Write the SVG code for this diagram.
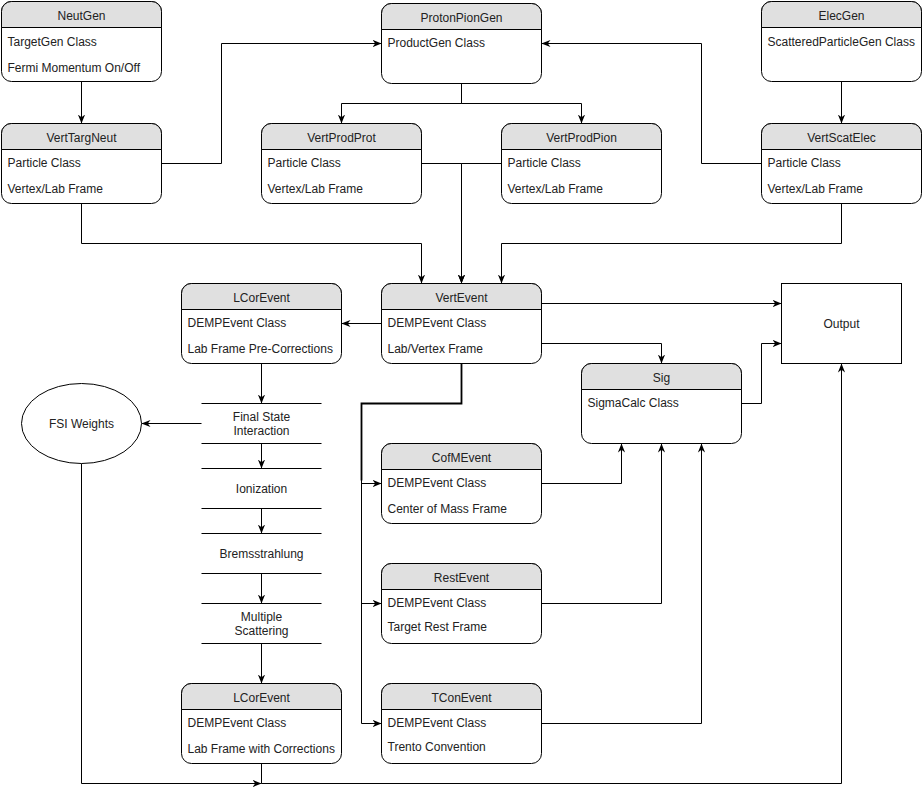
<svg xmlns="http://www.w3.org/2000/svg" width="923" height="794" viewBox="0 0 923 794">
<defs>
<style>
.bg{fill:#fff;stroke:#000;stroke-width:1}
.hd{fill:#e0e0e0;stroke:#000;stroke-width:1}
.t{font-family:"Liberation Sans",Arial,sans-serif;font-size:12px;fill:#222;text-anchor:middle}
.r{font-family:"Liberation Sans",Arial,sans-serif;font-size:12px;fill:#222}
.e{fill:none;stroke:#000;stroke-width:1.8}
.ea{fill:none;stroke:#000;stroke-width:1;marker-end:url(#arr)}
.ln{stroke:#000;stroke-width:1}
</style>
<marker id="arr" viewBox="0 0 10 10" refX="10" refY="5" markerWidth="9" markerHeight="9" orient="auto" markerUnits="userSpaceOnUse">
<path d="M0,1 L10,5 L0,9 L3,5 Z" fill="#000"/>
</marker>
<g id="box">
<rect class="bg" x="0" y="0" width="160" height="80" rx="10" ry="10"/>
<path class="hd" d="M0,26 V10 A10,10 0 0 1 10,0 H150 A10,10 0 0 1 160,10 V26 Z"/>
</g>
</defs>
<rect x="0" y="0" width="923" height="794" fill="#fff"/>
<g transform="translate(0.5,0.5)">
<g id="connectors">
<path class="ea" d="M81,81 V123"/>
<path class="ea" d="M161,163 H221 V43 H381"/>
<path class="ea" d="M761,163 H701 V43 H541"/>
<path class="ea" d="M841,81 V123"/>
<path class="ea" d="M461,83 V103 H341 V123"/>
<path class="ea" d="M461,83 V103 H581 V123"/>
<path class="ea" d="M81,203 V243 H421 V283"/>
<path class="ea" d="M421,163 H461 V283"/>
<path class="ea" d="M501,163 H461 V283"/>
<path class="ea" d="M841,203 V243 H501 V283"/>
<path class="ea" d="M381,323 H341"/>
<path class="ea" d="M541,303 H781"/>
<path class="ea" d="M541,343 H661 V363"/>
<path class="ea" d="M741,403 H761 V343 H781"/>
<path class="ea" d="M461,363 V403 H361 V483 H381"/>
<path class="ea" d="M461,363 V403 H361 V603 H381"/>
<path class="ea" d="M461,363 V403 H361 V723 H381"/>
<path class="e" d="M461,363 V403 H361 V480"/>
<path class="ea" d="M541,483 H621 V443"/>
<path class="ea" d="M541,603 H661 V443"/>
<path class="ea" d="M541,723 H701 V443"/>
<path class="ea" d="M261,363 V403"/>
<path class="ea" d="M261,443 V468"/>
<path class="ea" d="M261,508 V533"/>
<path class="ea" d="M261,573 V603"/>
<path class="ea" d="M261,643 V683"/>
<path class="ea" d="M201,423 H141"/>
<path class="ea" d="M81,463 V783 H261"/>
<path class="ea" d="M261,763 V783 H841 V363"/>
</g>

<g id="NeutGen" transform="translate(1,1)">
<use href="#box"/>
<text class="t" x="80" y="18">NeutGen</text>
<text class="r" x="6" y="44">TargetGen Class</text>
<text class="r" x="6" y="70">Fermi Momentum On/Off</text>
</g>
<g id="VertTargNeut" transform="translate(1,123)">
<use href="#box"/>
<text class="t" x="80" y="18">VertTargNeut</text>
<text class="r" x="6" y="43">Particle Class</text>
<text class="r" x="6" y="69">Vertex/Lab Frame</text>
</g>
<g id="ProtonPionGen" transform="translate(381,3)">
<use href="#box"/>
<text class="t" x="80" y="18">ProtonPionGen</text>
<text class="r" x="6" y="43">ProductGen Class</text>
</g>
<g id="VertProdProt" transform="translate(261,123)">
<use href="#box"/>
<text class="t" x="80" y="18">VertProdProt</text>
<text class="r" x="6" y="43">Particle Class</text>
<text class="r" x="6" y="69">Vertex/Lab Frame</text>
</g>
<g id="VertProdPion" transform="translate(501,123)">
<use href="#box"/>
<text class="t" x="80" y="18">VertProdPion</text>
<text class="r" x="6" y="43">Particle Class</text>
<text class="r" x="6" y="69">Vertex/Lab Frame</text>
</g>
<g id="ElecGen" transform="translate(761,1)">
<use href="#box"/>
<text class="t" x="80" y="18">ElecGen</text>
<text class="r" x="6" y="44">ScatteredParticleGen Class</text>
</g>
<g id="VertScatElec" transform="translate(761,123)">
<use href="#box"/>
<text class="t" x="80" y="18">VertScatElec</text>
<text class="r" x="6" y="43">Particle Class</text>
<text class="r" x="6" y="69">Vertex/Lab Frame</text>
</g>
<g id="LCorEvent" transform="translate(181,283)">
<use href="#box"/>
<text class="t" x="80" y="18">LCorEvent</text>
<text class="r" x="6" y="43">DEMPEvent Class</text>
<text class="r" x="6" y="69">Lab Frame Pre-Corrections</text>
</g>
<g id="VertEvent" transform="translate(381,283)">
<use href="#box"/>
<text class="t" x="80" y="18">VertEvent</text>
<text class="r" x="6" y="43">DEMPEvent Class</text>
<text class="r" x="6" y="69">Lab/Vertex Frame</text>
</g>
<g id="Output">
<rect class="bg" x="781" y="283" width="120" height="80"/>
<text class="t" x="841" y="327">Output</text>
</g>
<g id="Sig" transform="translate(581,363)">
<use href="#box"/>
<text class="t" x="80" y="18">Sig</text>
<text class="r" x="6" y="43">SigmaCalc Class</text>
</g>
<g id="CofMEvent" transform="translate(381,443)">
<use href="#box"/>
<text class="t" x="80" y="18">CofMEvent</text>
<text class="r" x="6" y="43">DEMPEvent Class</text>
<text class="r" x="6" y="69">Center of Mass Frame</text>
</g>
<g id="RestEvent" transform="translate(381,563)">
<use href="#box"/>
<text class="t" x="80" y="18">RestEvent</text>
<text class="r" x="6" y="43">DEMPEvent Class</text>
<text class="r" x="6" y="67">Target Rest Frame</text>
</g>
<g id="TConEvent" transform="translate(381,683)">
<use href="#box"/>
<text class="t" x="80" y="18">TConEvent</text>
<text class="r" x="6" y="43">DEMPEvent Class</text>
<text class="r" x="6" y="67">Trento Convention</text>
</g>
<g id="LCorEvent2" transform="translate(181,683)">
<use href="#box"/>
<text class="t" x="80" y="18">LCorEvent</text>
<text class="r" x="6" y="43">DEMPEvent Class</text>
<text class="r" x="6" y="69">Lab Frame with Corrections</text>
</g>
<g id="FSIWeights">
<ellipse cx="81" cy="423" rx="60" ry="40" fill="#fff" stroke="#000"/>
<text class="t" x="81" y="427">FSI Weights</text>
</g>
<g id="FinalStateInteraction">
<line class="ln" x1="201" y1="403" x2="321" y2="403"/>
<line class="ln" x1="201" y1="443" x2="321" y2="443"/>
<text class="t" x="261" y="420">Final State</text>
<text class="t" x="261" y="434">Interaction</text>
</g>
<g id="Ionization">
<line class="ln" x1="201" y1="468" x2="321" y2="468"/>
<line class="ln" x1="201" y1="508" x2="321" y2="508"/>
<text class="t" x="261" y="492">Ionization</text>
</g>
<g id="Bremsstrahlung">
<line class="ln" x1="201" y1="533" x2="321" y2="533"/>
<line class="ln" x1="201" y1="573" x2="321" y2="573"/>
<text class="t" x="261" y="557">Bremsstrahlung</text>
</g>
<g id="MultipleScattering">
<line class="ln" x1="201" y1="603" x2="321" y2="603"/>
<line class="ln" x1="201" y1="643" x2="321" y2="643"/>
<text class="t" x="261" y="620">Multiple</text>
<text class="t" x="261" y="634">Scattering</text>
</g>
</g>
</svg>
